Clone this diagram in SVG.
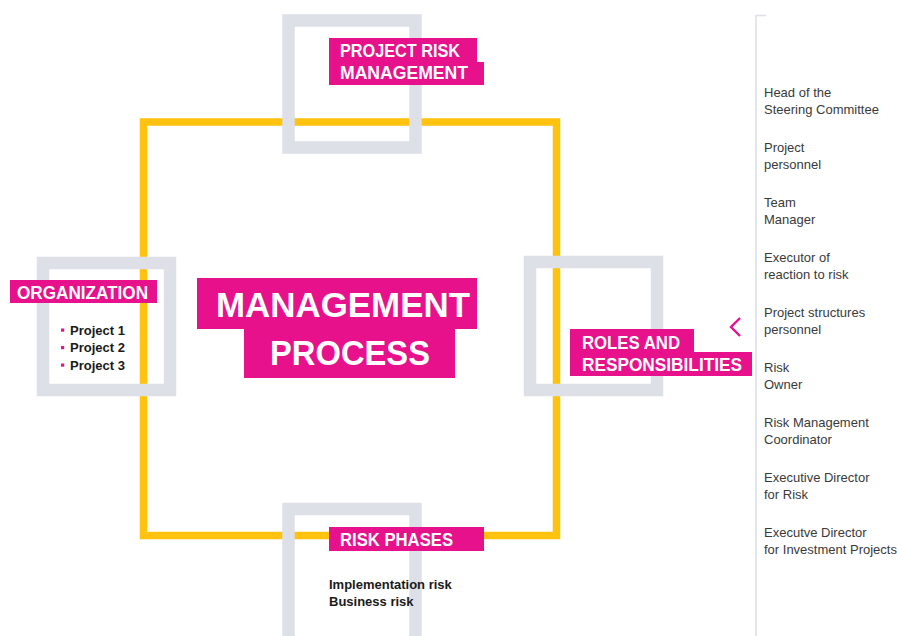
<svg xmlns="http://www.w3.org/2000/svg" width="897" height="636" viewBox="0 0 897 636">
<style>
.gbox{fill:none;stroke:#dde0e7;stroke-width:12.5}
.lbl{fill:#e8118c}
.lt{font-family:"Liberation Sans",Arial,sans-serif;font-weight:bold;fill:#ffffff;font-size:18px}
.bt{font-family:"Liberation Sans",Arial,sans-serif;font-weight:bold;fill:#1a1a1a;font-size:13px}
.st{font-family:"Liberation Sans",Arial,sans-serif;fill:#3a3a3a;font-size:13px}
</style>
<rect width="897" height="636" fill="#ffffff"/>
<g id="connectors">
  <rect x="143.5" y="122" width="413" height="413.5" fill="none" stroke="#ffc20e" stroke-width="7.5"/>
  <path d="M766 15.5 H756 V636" fill="none" stroke="#dde0e7" stroke-width="1.6"/>
  <path d="M740 318 L731 327 L740 336" fill="none" stroke="#e8118c" stroke-width="2.4"/>
</g>
<g id="project-risk-management">
  <rect class="gbox" x="288.5" y="20.5" width="127" height="127"/>
  <rect class="lbl" x="329" y="38" width="148" height="25"/>
  <rect class="lbl" x="329" y="62" width="155" height="23"/>
  <text class="lt" x="340" y="57" textLength="120" lengthAdjust="spacingAndGlyphs">PROJECT RISK</text>
  <text class="lt" x="340" y="79" textLength="128" lengthAdjust="spacingAndGlyphs">MANAGEMENT</text>
</g>
<g id="organization">
  <rect class="gbox" x="43" y="263" width="127" height="127"/>
  <rect class="lbl" x="10" y="280" width="147" height="23"/>
  <text class="lt" x="17" y="299" textLength="131" lengthAdjust="spacingAndGlyphs">ORGANIZATION</text>
  <rect class="lbl" x="61" y="328.5" width="3.2" height="3.2"/>
  <rect class="lbl" x="61" y="346" width="3.2" height="3.2"/>
  <rect class="lbl" x="61" y="363.5" width="3.2" height="3.2"/>
  <text class="bt" x="70" y="334.5">Project 1</text>
  <text class="bt" x="70" y="352">Project 2</text>
  <text class="bt" x="70" y="369.5">Project 3</text>
</g>
<g id="roles-and-responsibilities">
  <rect class="gbox" x="530" y="262" width="127" height="128"/>
  <rect class="lbl" x="570" y="329" width="124" height="24"/>
  <rect class="lbl" x="570" y="352" width="182" height="24"/>
  <text class="lt" x="582" y="349" textLength="98" lengthAdjust="spacingAndGlyphs">ROLES AND</text>
  <text class="lt" x="582" y="371" textLength="160" lengthAdjust="spacingAndGlyphs">RESPONSIBILITIES</text>
</g>
<g id="risk-phases">
  <rect class="gbox" x="288.5" y="509" width="127" height="140"/>
  <rect class="lbl" x="329" y="527" width="155" height="24"/>
  <text class="lt" x="340" y="545.5" textLength="113" lengthAdjust="spacingAndGlyphs">RISK PHASES</text>
  <text class="bt" x="329" y="589">Implementation risk</text>
  <text class="bt" x="329" y="606">Business risk</text>
</g>
<g id="management-process">
  <rect class="lbl" x="197" y="278" width="280" height="51"/>
  <rect class="lbl" x="244" y="328" width="211" height="50"/>
  <text class="lt" x="216" y="317" font-size="35" style="font-size:35px" textLength="254" lengthAdjust="spacingAndGlyphs">MANAGEMENT</text>
  <text class="lt" x="270" y="365" style="font-size:35px" textLength="160" lengthAdjust="spacingAndGlyphs">PROCESS</text>
</g>
<g id="roles-list">
  <text class="st" x="764" y="97">Head of the</text>
  <text class="st" x="764" y="114">Steering Committee</text>
  <text class="st" x="764" y="152">Project</text>
  <text class="st" x="764" y="169">personnel</text>
  <text class="st" x="764" y="207">Team</text>
  <text class="st" x="764" y="224">Manager</text>
  <text class="st" x="764" y="262">Executor of</text>
  <text class="st" x="764" y="279">reaction to risk</text>
  <text class="st" x="764" y="317">Project structures</text>
  <text class="st" x="764" y="334">personnel</text>
  <text class="st" x="764" y="372">Risk</text>
  <text class="st" x="764" y="389">Owner</text>
  <text class="st" x="764" y="427">Risk Management</text>
  <text class="st" x="764" y="444">Coordinator</text>
  <text class="st" x="764" y="482">Executive Director</text>
  <text class="st" x="764" y="499">for Risk</text>
  <text class="st" x="764" y="537">Executve Director</text>
  <text class="st" x="764" y="554">for Investment Projects</text>
</g>
</svg>
